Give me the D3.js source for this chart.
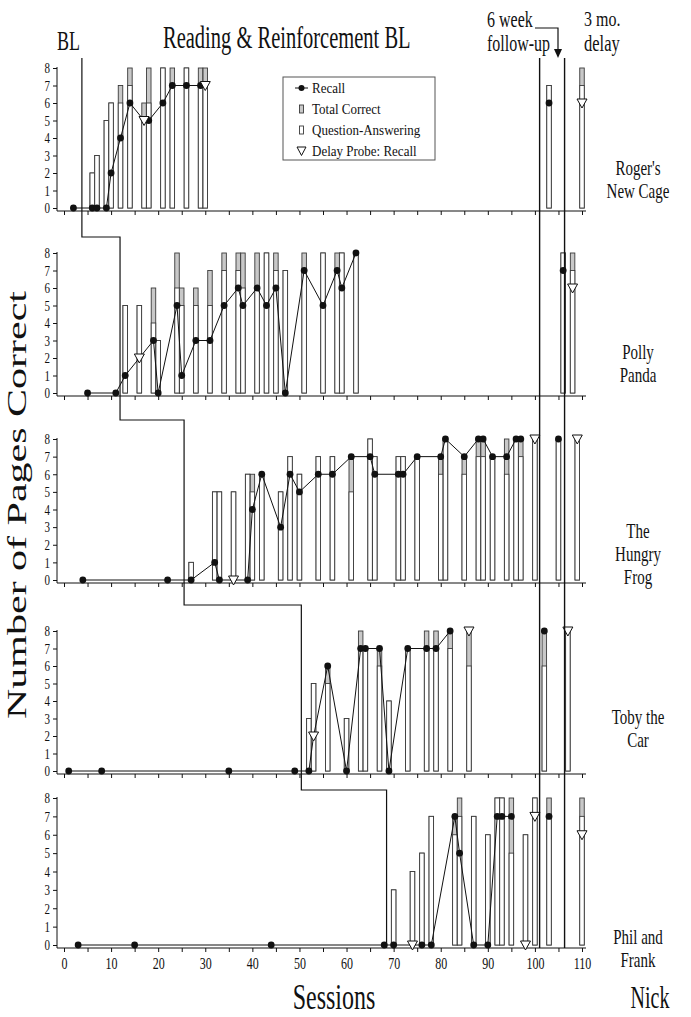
<!DOCTYPE html>
<html>
<head>
<meta charset="utf-8">
<script src="https://cdn.jsdelivr.net/npm/d3@7"></script>
<style>
  body { margin: 0; background: #fff; }
  text { font-family: "Liberation Serif", "Times New Roman", serif; fill: #111; }
</style>
</head>
<body>
<svg id="chart" width="691" height="1017"></svg>
<script>
// session numbers, recall values, delay probes, bars [session, question-answering, total correct]
var recall1 = [[2,0],[6,0],[7,0],[9,0],[10,2],[12,4],[14,6],[18,5],[21,6],[23,7],[26,7],[29,7],[103,6]];
var probe1 = [[17,5],[30,7],[110,6]];
var bars1 = [[6,2,2],[7,3,3],[9,5,5],[10,6,6],[12,6,7],[14,7,8],[17,5,6],[18,6,8],[21,8,8],[23,7,8],
             [26,8,8],[29,7,8],[30,7,8],[103,7,7],[110,7,8]];

var recall2 = [[5,0],[11,0],[13,1],[19,3],[20,0],[24,5],[25,1],[28,3],[31,3],[34,5],[37,6],[38,5],[41,6],
               [43,5],[45,6],[47,0],[51,7],[55,5],[58,7],[59,6],[62,8],[106,7]];
var probe2 = [[16,2],[108,6]];
var bars2 = [[13,5,5],[16,5,5],[19,4,6],[20,3,3],[24,6,8],[25,5,6],[28,5,6],[31,5,7],[34,7,8],[37,7,8],
             [38,6,8],[41,6,8],[43,8,8],[45,7,8],[47,7,7],[51,7,8],[55,8,8],[58,7,8],[59,8,8],[62,8,8],
             [106,8,8],[108,7,8]];

var recall3 = [[4,0],[22,0],[27,0],[32,1],[33,0],[39,0],[40,4],[42,6],[46,3],[48,6],[50,5],[54,6],[57,6],
               [61,7],[65,7],[66,6],[71,6],[72,6],[75,7],[80,7],[81,8],[85,7],[88,8],[89,8],[91,7],[94,7],
               [96,8],[97,8],[105,8]];
var probe3 = [[36,0],[100,8],[109,8]];
var bars3 = [[27,1,1],[32,5,5],[33,5,5],[36,5,5],[39,6,6],[40,5,6],[42,6,6],[46,5,5],[48,7,7],[50,6,6],
             [54,7,7],[57,7,7],[61,5,7],[65,8,8],[66,7,7],[71,7,7],[72,7,7],[75,7,7],[80,6,7],[81,8,8],
             [85,6,7],[88,7,8],[89,7,8],[91,7,7],[94,6,8],[96,8,8],[97,7,8],[100,8,8],[105,8,8],[109,8,8]];

var recall4 = [[1,0],[8,0],[35,0],[49,0],[52,0],[56,6],[60,0],[63,7],[64,7],[67,7],[69,0],[73,7],[77,7],
               [79,7],[82,8],[102,8]];
var probe4 = [[53,2],[86,8],[107,8]];
var bars4 = [[52,3,3],[53,5,5],[56,5,6],[60,3,3],[63,7,8],[64,7,7],[67,6,7],[69,4,4],[73,7,7],[77,7,8],
             [79,7,8],[82,7,8],[86,6,8],[102,6,8],[107,8,8]];

var recall5 = [[3,0],[15,0],[44,0],[68,0],[70,0],[76,0],[78,0],[83,7],[84,5],[87,0],[90,0],[92,7],[93,7],
               [95,7],[103,7]];
var probe5 = [[74,0],[98,0],[100,7],[110,6]];
var bars5 = [[70,3,3],[74,4,4],[76,5,5],[78,7,7],[83,6,7],[84,7,8],[87,7,7],[90,6,6],[92,8,8],[93,8,8],
             [95,5,8],[98,6,6],[100,8,8],[103,7,8],[110,7,8]];

var lineEnd = [30, 62, 97, 82, 95];
var panelNames = [["Roger's","New Cage"],["Polly","Panda"],["The","Hungry","Frog"],["Toby the","Car"],["Phil and","Frank"]];
var phaseChanges = [3.8, 11.9, 25.5, 50.4, 68.5];
var followUp = [101, 106.3];
var yTicks = d3.range(0, 9);
var xTicks = d3.range(0, 111, 5);

var panels = [
  {recall: recall1, probe: probe1, bars: bars1},
  {recall: recall2, probe: probe2, bars: bars2},
  {recall: recall3, probe: probe3, bars: bars3},
  {recall: recall4, probe: probe4, bars: bars4},
  {recall: recall5, probe: probe5, bars: bars5}
];

var tops = [68, 253, 439, 631, 798],
    bottoms = [208, 393, 580, 771, 945],
    axisX0 = 57, axisX1 = 586;

var svg = d3.select('#chart');
var x = d3.scaleLinear().domain([0, 110]).range([64, 582]);
var bw = 4.5;
var gray = '#c8c8c8', ink = '#111', barInk = '#3a3a3a';

// text drawn with the tall, narrow look of the original
function stext(g, px, py, str, size, k, anchor) {
  return g.append('text')
    .attr('transform', 'translate(' + px + ',' + py + ') scale(1,' + k + ')')
    .attr('font-size', size)
    .attr('text-anchor', anchor || 'start')
    .text(str);
}

panels.forEach(function (p, i) {
  var y = d3.scaleLinear().domain([0, 8]).range([bottoms[i], tops[i]]);
  var base = bottoms[i] + 3;
  var g = svg.append('g');

  // axes
  var xa = g.append('g').attr('transform', 'translate(0,' + base + ')')
    .call(d3.axisBottom(x).tickValues(xTicks).tickSize(4).tickSizeOuter(0)
      .tickFormat(function (d) { return (i === 4 && d % 10 === 0) ? d : ''; }));
  xa.select('.domain').remove();
  xa.selectAll('line').attr('stroke', ink);
  xa.selectAll('text').attr('font-family', null).attr('font-size', 12)
    .attr('transform', 'scale(1,1.35)').attr('fill', ink);
  xa.attr('font-family', null);
  g.append('line').attr('x1', axisX0).attr('x2', axisX1).attr('y1', base).attr('y2', base)
    .attr('stroke', ink).attr('stroke-width', 1);

  var ya = g.append('g').attr('transform', 'translate(' + axisX0 + ',0)')
    .call(d3.axisLeft(y).tickValues(yTicks).tickSize(4).tickSizeOuter(0).tickFormat(d3.format('d')));
  ya.select('.domain').remove();
  ya.attr('font-family', null);
  ya.selectAll('line').attr('stroke', ink);
  ya.selectAll('text').attr('font-family', null).attr('font-size', 11)
    .attr('transform', 'scale(1,1.35)').attr('fill', ink);
  g.append('line').attr('x1', axisX0).attr('x2', axisX0).attr('y1', tops[i] - 1).attr('y2', base)
    .attr('stroke', ink).attr('stroke-width', 1);

  // bars: total correct (gray) behind question-answering (white)
  var bg = g.append('g');
  bg.selectAll('rect.tot').data(p.bars).enter().append('rect').attr('class', 'tot')
    .attr('x', function (d) { return x(d[0]) - bw / 2; })
    .attr('width', bw)
    .attr('y', function (d) { return y(d[2]); })
    .attr('height', function (d) { return y(0) - y(d[2]); })
    .attr('fill', gray).attr('stroke', barInk).attr('stroke-width', 0.9);
  bg.selectAll('rect.qa').data(p.bars).enter().append('rect').attr('class', 'qa')
    .attr('x', function (d) { return x(d[0]) - bw / 2; })
    .attr('width', bw)
    .attr('y', function (d) { return y(d[1]); })
    .attr('height', function (d) { return y(0) - y(d[1]); })
    .attr('fill', '#fff').attr('stroke', barInk).attr('stroke-width', 0.9);

  // recall line
  var pts = p.recall.concat(p.probe)
    .filter(function (d) { return d[0] <= lineEnd[i]; })
    .sort(function (a, b) { return a[0] - b[0]; });
  g.append('path').datum(pts)
    .attr('d', d3.line().x(function (d) { return x(d[0]); }).y(function (d) { return y(d[1]); }))
    .attr('fill', 'none').attr('stroke', ink).attr('stroke-width', 1);

  g.selectAll('circle').data(p.recall).enter().append('circle')
    .attr('cx', function (d) { return x(d[0]); })
    .attr('cy', function (d) { return y(d[1]); })
    .attr('r', 3.4).attr('fill', ink);

  g.selectAll('path.probe').data(p.probe).enter().append('path').attr('class', 'probe')
    .attr('transform', function (d) { return 'translate(' + x(d[0]) + ',' + y(d[1]) + ')'; })
    .attr('d', 'M-5,-4L5,-4L0,5Z')
    .attr('fill', '#fff').attr('stroke', ink).attr('stroke-width', 1);

  // participant label
  var labelY0 = [175, 359, 538, 724, 944][i];
  panelNames[i].forEach(function (s, j) {
    stext(svg, 638, labelY0 + j * 23, s, 15, 1.4, 'middle');
  });
});

// phase change step line
var stepY = [58, 237, 420, 605, 790, bottoms[4] + 3];
var stepPts = [];
phaseChanges.forEach(function (s, j) {
  stepPts.push([x(s), stepY[j]]);
  stepPts.push([x(s), stepY[j + 1]]);
});
svg.append('path').datum(stepPts)
  .attr('d', d3.line())
  .attr('fill', 'none').attr('stroke', ink).attr('stroke-width', 1.2);

// follow-up lines
svg.selectAll('line.fu').data(followUp).enter().append('line').attr('class', 'fu')
  .attr('x1', function (d) { return x(d); }).attr('x2', function (d) { return x(d); })
  .attr('y1', 58).attr('y2', bottoms[4] + 3)
  .attr('stroke', ink).attr('stroke-width', 1.4);

// headers
stext(svg, 57, 50, 'BL', 18, 1.5);
stext(svg, 163, 48, 'Reading & Reinforcement BL', 20.5, 1.5);
stext(svg, 487, 27, '6 week', 16, 1.4);
stext(svg, 487, 51, 'follow-up', 16, 1.4);
stext(svg, 584, 26, '3 mo.', 16, 1.35);
stext(svg, 584, 51, 'delay', 16.5, 1.35);
svg.append('path').attr('d', 'M535,28H558V50').attr('fill', 'none').attr('stroke', ink).attr('stroke-width', 1.2);
svg.append('path').attr('d', 'M554,49L562,49L558,58Z').attr('fill', ink);

// legend
var lg = svg.append('g');
lg.append('rect').attr('x', 283).attr('y', 77).attr('width', 152).attr('height', 83)
  .attr('fill', '#fff').attr('stroke', '#555').attr('stroke-width', 1);
var legendItems = ['Recall', 'Total Correct', 'Question-Answering', 'Delay Probe: Recall'];
legendItems.forEach(function (t, j) {
  var ly = 88 + j * 21;
  if (j === 0) {
    lg.append('line').attr('x1', 295).attr('x2', 308).attr('y1', ly).attr('y2', ly).attr('stroke', ink);
    lg.append('circle').attr('cx', 301.5).attr('cy', ly).attr('r', 3).attr('fill', ink);
  } else if (j === 1 || j === 2) {
    lg.append('rect').attr('x', 299.5).attr('y', ly - 4).attr('width', 4).attr('height', 8)
      .attr('fill', j === 1 ? gray : '#fff').attr('stroke', barInk).attr('stroke-width', 0.9);
  } else {
    lg.append('path').attr('transform', 'translate(301.5,' + ly + ')').attr('d', 'M-4.5,-4L4.5,-4L0,4.5Z')
      .attr('fill', '#fff').attr('stroke', ink);
  }
  stext(lg, 312, ly + 4.5, t, 13, 1.15);
});

// axis titles
svg.append('text')
  .attr('transform', 'translate(26,505) rotate(-90) scale(1.5,1)')
  .attr('font-size', 28).attr('text-anchor', 'middle')
  .text('Number of Pages Correct');
stext(svg, 334, 1009, 'Sessions', 24, 1.5, 'middle');
stext(svg, 650, 1008, 'Nick', 20, 1.6, 'middle');
</script>
</body>
</html>
